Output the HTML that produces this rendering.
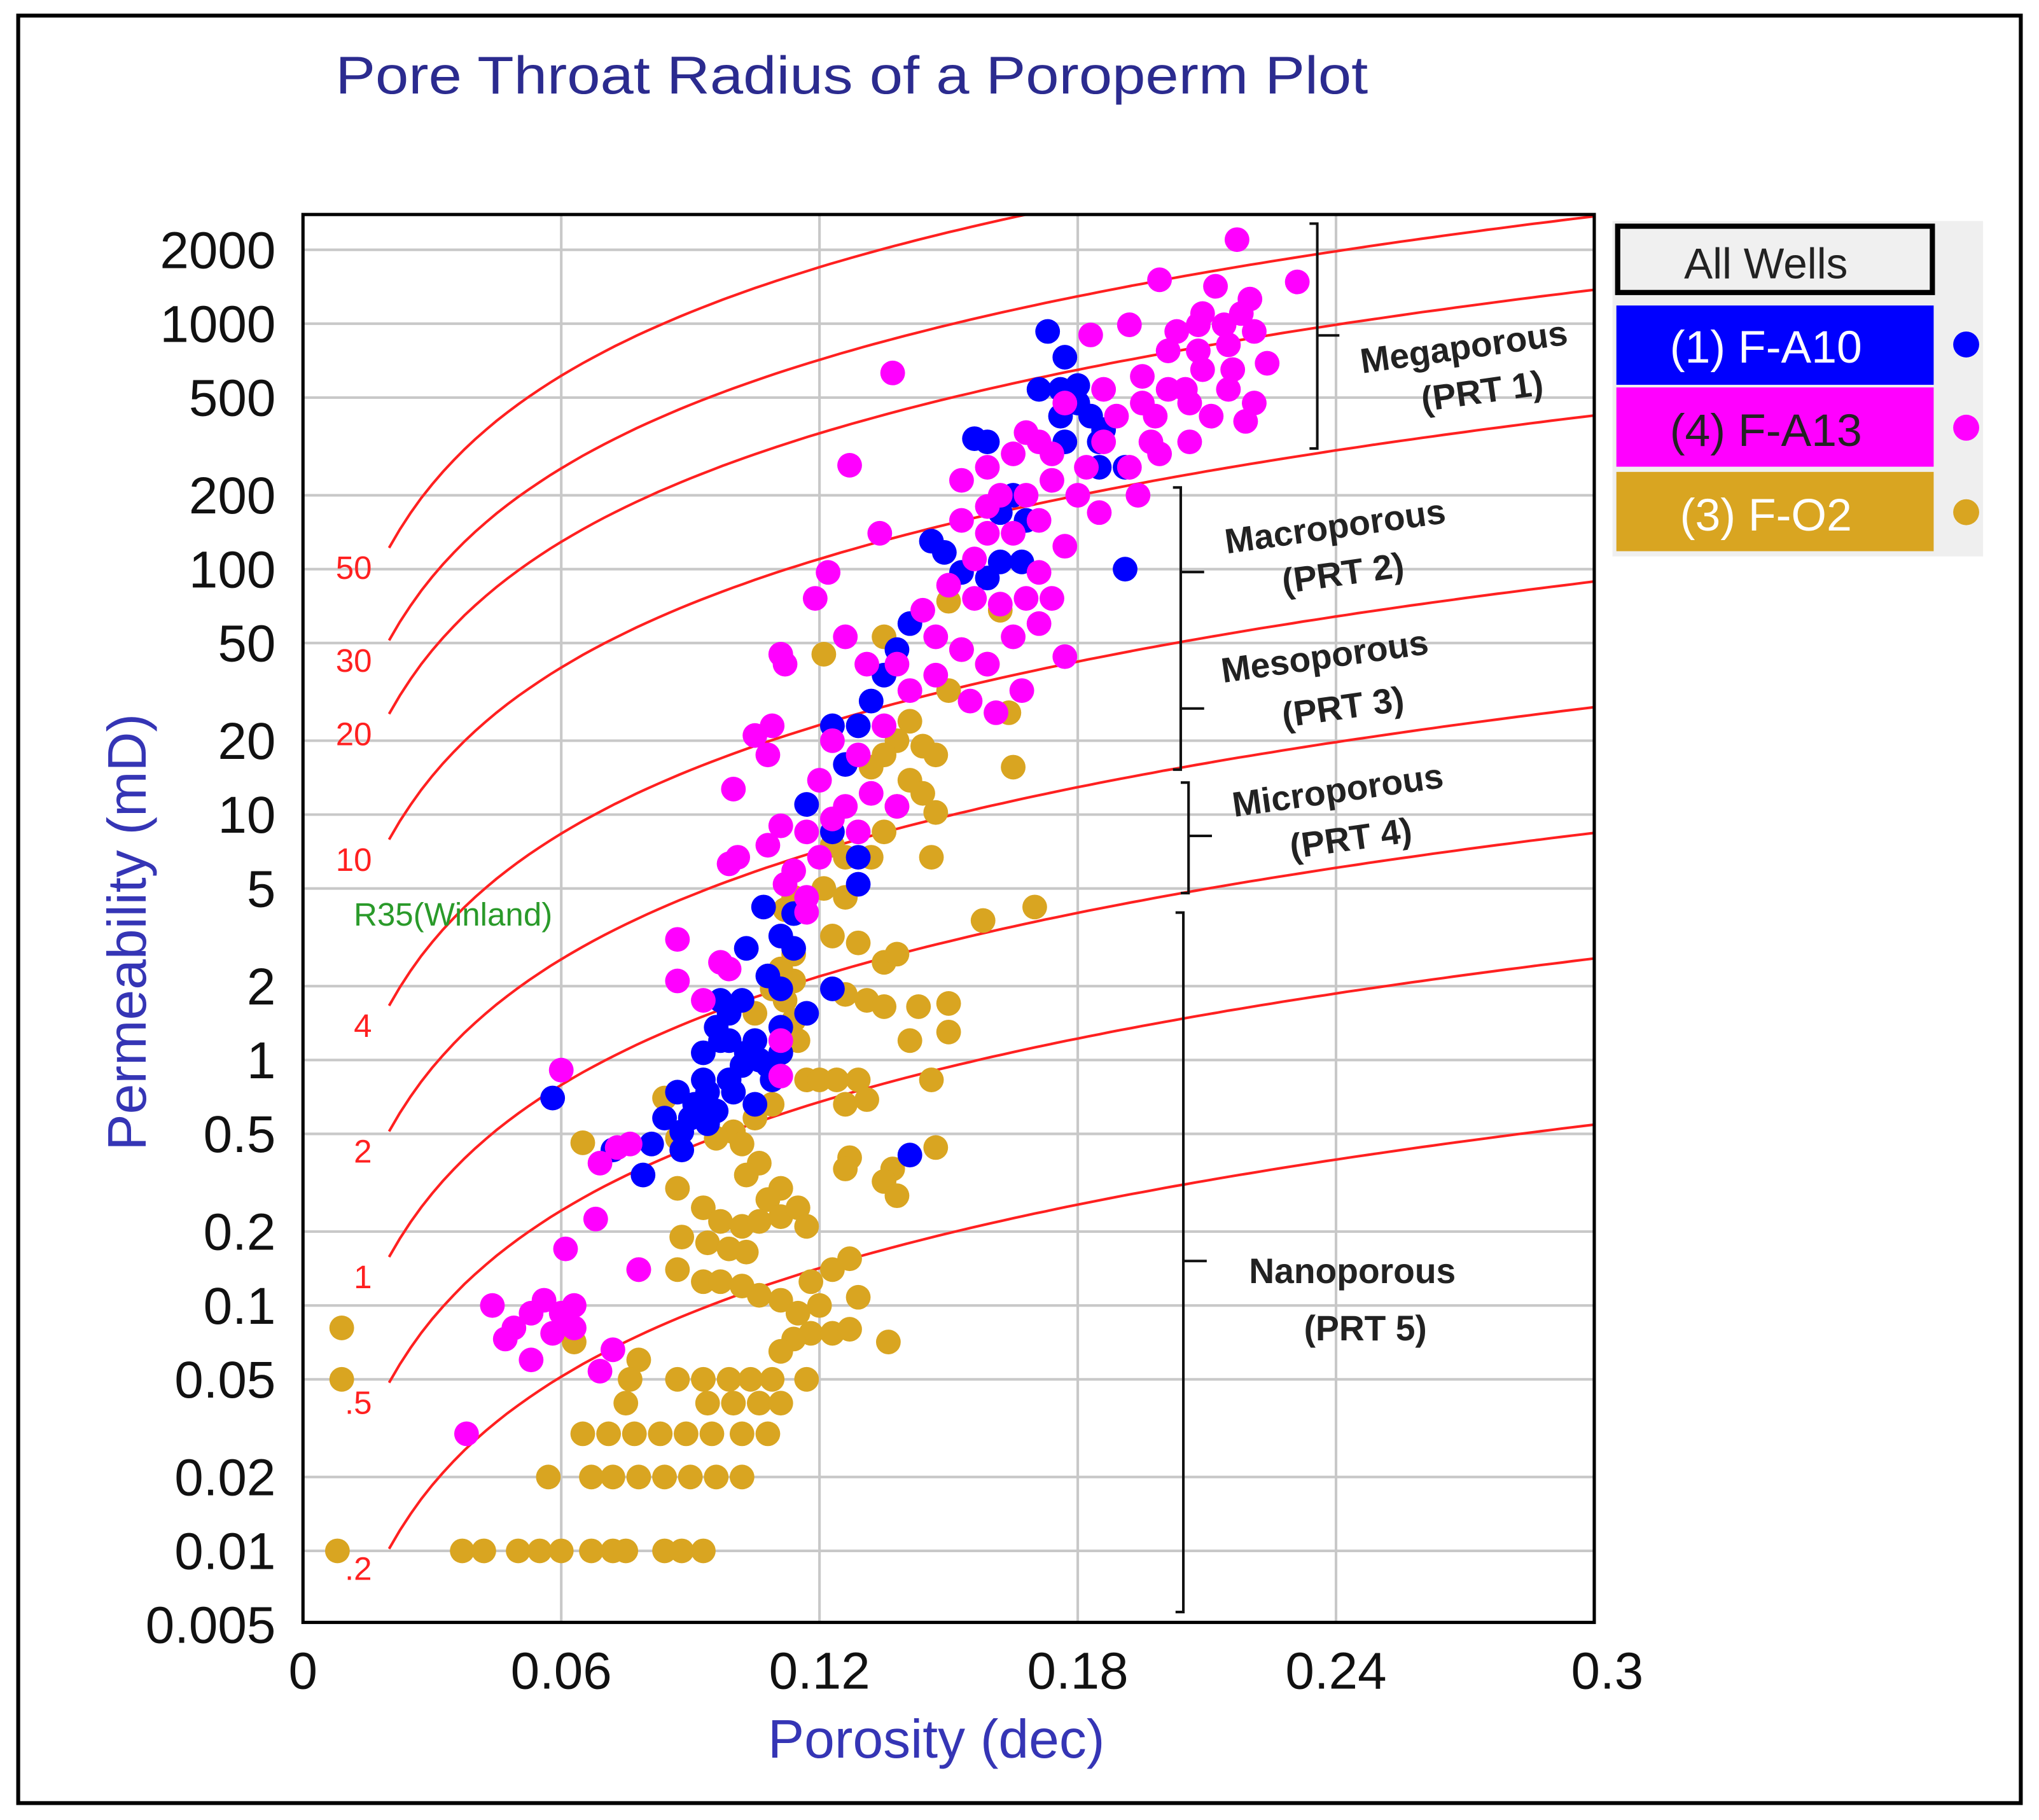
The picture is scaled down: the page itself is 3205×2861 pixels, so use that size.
<!DOCTYPE html>
<html><head><meta charset="utf-8"><style>
html,body{margin:0;padding:0;background:#fff;}
svg{display:block;}
text{font-family:"Liberation Sans",sans-serif;}
</style></head><body>
<svg id="chart" width="3205" height="2861" viewBox="0 0 1568 1400" preserveAspectRatio="none" xmlns="http://www.w3.org/2000/svg">
<rect x="14" y="12" width="1540" height="1375" fill="#fff" stroke="#000" stroke-width="3"/>
<text x="258" y="72" font-size="41" textLength="794" lengthAdjust="spacingAndGlyphs" fill="#2b2b8f">Pore Throat Radius of a Poroperm Plot</text>
<defs><clipPath id="pclip"><rect x="233" y="165" width="993" height="1083"/></clipPath></defs>
<g id="grid"></g>
<g id="curves" clip-path="url(#pclip)"></g>
<g id="points" clip-path="url(#pclip)"></g>
<rect x="233" y="165" width="993" height="1083" fill="none" stroke="#000" stroke-width="2.5"/>
<g id="ticks"></g>
<text transform="translate(112,717) rotate(-90)" text-anchor="middle" font-size="42" fill="#3535b5">Permeability (mD)</text>
<text x="720" y="1352" text-anchor="middle" font-size="42" fill="#3535b5">Porosity (dec)</text>
<text x="272" y="712" font-size="25" fill="#2a9a2a">R35(Winland)</text>
<g stroke="#111" stroke-width="2" fill="none">
<path d="M1007 172 H1013 V345 H1007 M1013 258 H1030"/>
<path d="M902 375 H908 V592 H902 M908 440 H926 M908 545 H926"/>
<path d="M908 602 H914 V687 H908 M914 643 H932"/>
<path d="M904 702 H910 V1240 H904 M910 970 H928"/>
</g>
<g font-size="27" font-weight="bold" fill="#222" text-anchor="middle">
<text transform="translate(1127,276) rotate(-8)">Megaporous</text>
<text transform="translate(1141,310) rotate(-8)">(PRT 1)</text>
<text transform="translate(1028,414) rotate(-8)">Macroporous</text>
<text transform="translate(1034,450) rotate(-8)">(PRT 2)</text>
<text transform="translate(1020,514) rotate(-8)">Mesoporous</text>
<text transform="translate(1034,553) rotate(-8)">(PRT 3)</text>
<text transform="translate(1030,617) rotate(-8)">Microporous</text>
<text transform="translate(1040,654) rotate(-8)">(PRT 4)</text>
<text x="1040" y="987">Nanoporous</text>
<text x="1050" y="1031">(PRT 5)</text>
</g>
<g>
<rect x="1240" y="170" width="285" height="258" fill="#efefef"/>
<rect x="1244" y="174" width="242" height="51" fill="#f0f0f0" stroke="#000" stroke-width="4"/>
<text x="1358" y="214" text-anchor="middle" font-size="33" fill="#222">All Wells</text>
<rect x="1243" y="235" width="244" height="61" fill="#0000ff"/>
<text x="1358" y="279" text-anchor="middle" font-size="35" fill="#fff">(1) F-A10</text>
<circle cx="1512" cy="265" r="10" fill="#0000ff"/>
<rect x="1243" y="298" width="244" height="61" fill="#ff00ff"/>
<text x="1358" y="343" text-anchor="middle" font-size="35" fill="#222">(4) F-A13</text>
<circle cx="1512" cy="329" r="10" fill="#ff00ff"/>
<rect x="1243" y="363" width="244" height="61" fill="#d9a521"/>
<text x="1358" y="408" text-anchor="middle" font-size="35" fill="#fff">(3) F-O2</text>
<circle cx="1512" cy="394" r="10" fill="#d9a521"/>
</g>
</svg>
<script>
const xTicks=[0,0.06,0.12,0.18,0.24,0.3];
const xTickLabels=["0","0.06","0.12","0.18","0.24","0.3"];
const yTicks=[2000,1000,500,200,100,50,20,10,5,2,1,0.5,0.2,0.1,0.05,0.02,0.01,0.005];
const yTickLabels=["2000","1000","500","200","100","50","20","10","5","2","1","0.5","0.2","0.1","0.05","0.02","0.01","0.005"];
const r35Radii=[50,30,20,10,4,2,1,0.5,0.2];
const r35Labels=["50","30","20","10","4","2","1",".5",".2"];
const a10Phi=[0.058,0.173,0.177,0.156,0.159,0.171,0.176,0.180,0.183,0.186,0.177,0.185,0.191,0.165,0.162,0.191,0.146,0.149,0.153,0.159,0.167,0.141,0.138,0.135,0.132,0.129,0.123,0.126,0.117,0.123,0.129,0.107,0.111,0.103,0.114,0.108,0.102,0.099,0.096,0.105,0.111,0.093,0.099,0.087,0.091,0.096,0.084,0.088,0.081,0.094,0.072,0.079,0.088,0.141,0.117,0.123,0.129,0.114,0.111,0.106,0.102,0.109,0.097,0.093,0.090,0.099,0.103,0.108,0.100,0.105,0.094,0.097,0.111,0.180,0.176,0.185,0.168,0.162];
const a10Perm=[0.7,930,730,340,330,540,540,475,420,370,330,260,260,200,170,100,130,117,97,92,107,60,47,37,29,23,23,16,11,8.5,6.7,4.2,3.2,2.85,2.85,2.2,1.75,1.55,1.36,1.2,1.07,1.07,0.83,0.74,0.66,0.62,0.58,0.51,0.455,0.55,0.43,0.34,0.43,0.41,1.55,1.95,5.2,3.95,1.95,1.0,0.95,0.83,1.2,0.83,0.58,1.2,1.07,0.95,0.74,0.66,0.74,1.75,1.36,560,420,330,158,107];
const a13Phi=[0.217,0.199,0.231,0.212,0.220,0.214,0.203,0.208,0.192,0.183,0.216,0.224,0.205,0.195,0.221,0.198,0.211,0.189,0.186,0.177,0.171,0.165,0.159,0.153,0.162,0.168,0.174,0.180,0.185,0.194,0.199,0.206,0.137,0.127,0.171,0.165,0.159,0.156,0.177,0.171,0.168,0.162,0.156,0.150,0.144,0.147,0.153,0.159,0.165,0.171,0.177,0.174,0.134,0.122,0.119,0.126,0.131,0.138,0.141,0.147,0.155,0.161,0.167,0.111,0.112,0.109,0.105,0.108,0.123,0.129,0.135,0.120,0.126,0.132,0.138,0.129,0.123,0.117,0.100,0.111,0.108,0.101,0.099,0.114,0.120,0.117,0.112,0.087,0.097,0.087,0.093,0.099,0.111,0.060,0.076,0.069,0.073,0.111,0.068,0.061,0.078,0.044,0.049,0.053,0.056,0.060,0.063,0.047,0.053,0.058,0.063,0.072,0.069,0.038,0.117,0.209,0.215,0.218,0.221,0.209,0.201,0.206,0.215,0.219,0.197,0.192,0.186,0.201,0.208,0.195,0.168,0.174,0.182,0.159,0.153];
const a13Perm=[2200,1510,1480,1420,1260,990,930,775,990,900,650,690,540,610,475,420,420,420,330,475,330,295,260,230,200,200,230,200,170,200,295,330,630,265,158,140,140,110,124,97,76,72,76,86,68,53,47,41,53,60,44,76,140,97,76,53,41,41,32,37,29,26,32,45,41,23,21,17.5,20,17.5,23,13.8,10.8,12.2,10.8,8.5,9.6,8.5,12.7,9,7.5,6.7,6.3,5.9,6.7,4.6,5.2,3.1,2.5,2.1,1.75,2.35,1.2,0.91,0.455,0.38,0.44,0.86,0.225,0.17,0.14,0.1,0.081,0.093,0.105,0.093,0.1,0.073,0.06,0.077,0.081,0.066,0.054,0.03,4.0,1100,820,1100,930,650,540,475,540,400,330,260,540,775,990,475,360,295,260,180,158];
const o2Phi=[0.121,0.150,0.135,0.153,0.159,0.162,0.150,0.164,0.165,0.141,0.138,0.144,0.147,0.135,0.132,0.141,0.144,0.138,0.147,0.129,0.135,0.123,0.126,0.132,0.146,0.121,0.126,0.114,0.112,0.123,0.129,0.135,0.138,0.126,0.131,0.135,0.143,0.150,0.158,0.170,0.114,0.111,0.109,0.112,0.114,0.115,0.111,0.150,0.117,0.120,0.124,0.129,0.126,0.131,0.109,0.105,0.100,0.102,0.106,0.103,0.111,0.108,0.096,0.084,0.087,0.065,0.147,0.127,0.126,0.137,0.135,0.138,0.087,0.093,0.097,0.102,0.106,0.111,0.115,0.117,0.094,0.099,0.103,0.088,0.087,0.093,0.097,0.102,0.106,0.111,0.118,0.123,0.127,0.129,0.120,0.115,0.118,0.114,0.111,0.123,0.127,0.136,0.063,0.078,0.078,0.076,0.075,0.087,0.093,0.099,0.104,0.109,0.117,0.094,0.100,0.106,0.111,0.065,0.071,0.077,0.083,0.089,0.095,0.102,0.108,0.057,0.067,0.072,0.078,0.084,0.090,0.096,0.102,0.009,0.009,0.008,0.037,0.042,0.050,0.055,0.060,0.067,0.072,0.075,0.084,0.088,0.093,0.105,0.114,0.141,0.146];
const o2Perm=[45,74,53,47,41,68,32,26,15.6,24,20,19,17.5,17.5,15.6,13.8,12.2,10.8,10.2,8.5,8.5,7.5,6.7,6.7,6.7,5.0,4.6,4.6,4.1,3.2,3.0,2.5,2.7,1.85,1.75,1.65,1.65,1.7,3.7,4.2,2.7,2.35,1.95,1.75,1.45,1.2,1.07,1.3,0.83,0.83,0.83,0.83,0.66,0.69,0.66,0.58,0.51,0.455,0.38,0.34,0.3,0.27,0.48,0.7,0.48,0.46,0.44,0.4,0.36,0.36,0.32,0.28,0.3,0.25,0.22,0.21,0.22,0.23,0.25,0.21,0.18,0.17,0.165,0.19,0.14,0.125,0.125,0.12,0.11,0.105,0.125,0.14,0.155,0.108,0.1,0.093,0.077,0.073,0.065,0.077,0.08,0.071,0.071,0.14,0.06,0.05,0.04,0.05,0.05,0.05,0.05,0.05,0.05,0.04,0.04,0.04,0.04,0.03,0.03,0.03,0.03,0.03,0.03,0.03,0.03,0.02,0.02,0.02,0.02,0.02,0.02,0.02,0.02,0.081,0.05,0.01,0.01,0.01,0.01,0.01,0.01,0.01,0.01,0.01,0.01,0.01,0.01,1.55,2.1,1.2,0.83];

const NS="http://www.w3.org/2000/svg";
const X0=233,X1=1226,YB=1193,PX_DEC=188.8;
function xs(p){return X0+(p/0.3)*(X1-X0);}
function ys(k){return YB-(Math.log10(k)+2)*PX_DEC;}
function mk(tag,attrs,parent){const e=document.createElementNS(NS,tag);for(const k in attrs)e.setAttribute(k,attrs[k]);parent.appendChild(e);return e;}
const grid=document.getElementById('grid'),ticks=document.getElementById('ticks'),curves=document.getElementById('curves'),pts=document.getElementById('points');
xTicks.forEach((v,i)=>{
  if(i>0&&i<xTicks.length-1){const l=mk('line',{x1:xs(v),x2:xs(v),y1:165,y2:1248,stroke:'#c8c8c8','stroke-width':2},grid);
  
  }
  const t=mk('text',{x:xs(v)+(i==xTicks.length-1?10:0),y:1299,'text-anchor':'middle','font-size':40,fill:'#111'},ticks);t.textContent=xTickLabels[i];
  
  
});
yTicks.forEach((v,i)=>{
  const y=ys(v);
  if(v>=0.01){const l=mk('line',{x1:233,x2:1226,y1:y,y2:y,stroke:'#c8c8c8','stroke-width':2},grid);
  
  }
  const t=mk('text',{x:212,y:Math.min(y,1250)+14,'text-anchor':'end','font-size':40,fill:'#111'},ticks);t.textContent=yTickLabels[i];
  
  
});
r35Radii.forEach((r,i)=>{
  let d='';
  for(let p=2;p<=30.01;p+=0.25){const lk=(Math.log10(r)-0.732+0.864*Math.log10(p))/0.588;const k=Math.pow(10,lk);d+=(d?'L':'M')+xs(p/100).toFixed(1)+' '+ys(k).toFixed(1);}
  const c=mk('path',{d:d,fill:'none',stroke:'#ff2020','stroke-width':2},curves);
  
  
  const lk0=(Math.log10(r)-0.732+0.864*Math.log10(2))/0.588;
  const t=mk('text',{x:286,y:ys(Math.pow(10,lk0))+24,'text-anchor':'end','font-size':25,fill:'#ff2020'},document.getElementById('chart'));
  t.textContent=r35Labels[i];
  
  
});
function series(phi,perm,color,name){
  phi.forEach((p,i)=>{const c=mk('circle',{cx:xs(p),cy:ys(perm[i]),r:9.5,fill:color},pts);
  
  });
}
series(o2Phi,o2Perm,'#d9a521','point-f-o2');
series(a10Phi,a10Perm,'#0000ff','point-f-a10');
series(a13Phi,a13Perm,'#ff00ff','point-f-a13');
</script>
</body></html>
